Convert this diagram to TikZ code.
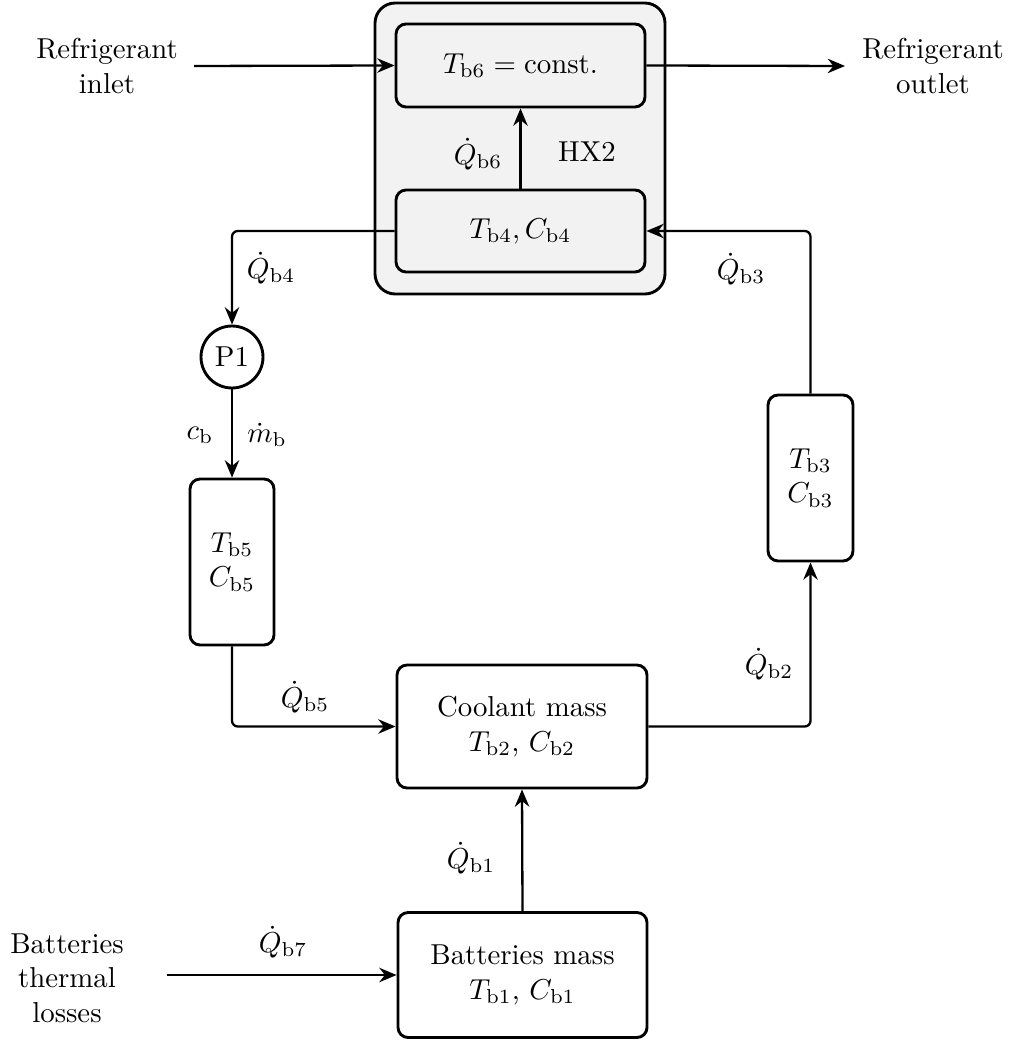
\documentclass[tikz,border=0pt]{standalone}
\usepackage{amsmath}
\usetikzlibrary{arrows.meta}
\newcommand{\pxu}{0.347pt}
\begin{document}
\begin{tikzpicture}[x=\pxu, y=-\pxu,
  box/.style={draw, line width=1pt, rounded corners=3.5pt, fill=gray!10, inner sep=0pt, align=center},
  whitebox/.style={box, fill=white},
  flow/.style={line width=0.8pt, -{Stealth[length=6pt, width=5pt]}, rounded corners=2pt},
  lbl/.style={inner sep=0pt, align=center}]
\useasboundingbox (0,0) rectangle (1013,1042);

% heat exchanger HX2
\node[box, rounded corners=7pt, minimum width={290*\pxu}, minimum height={291*\pxu}] (hx) at (520,148.5) {};
\node[box, minimum width={249*\pxu}, minimum height={83*\pxu}] (t6) at (520.5,65.5) {$T_{\mathrm{b6}} = \text{const.}$};
\node[box, minimum width={249*\pxu}, minimum height={82*\pxu}] (t4) at (520.5,231) {$T_{\mathrm{b4}}, C_{\mathrm{b4}}$};
\node[lbl] (q6) at (478,154) {$\dot{Q}_{\mathrm{b6}}$};
\node[lbl] (hxl) at (587,152) {HX2};

% pump and coolant loop
\node[draw, circle, line width=1pt, minimum size={62*\pxu}, inner sep=0pt] (p1) at (232,357) {P1};
\node[whitebox, minimum width={84*\pxu}, minimum height={166*\pxu}] (t5) at (232,562) {$T_{\mathrm{b5}}$\\$C_{\mathrm{b5}}$};
\node[whitebox, minimum width={250*\pxu}, minimum height={123*\pxu}] (cool) at (522,726.5) {Coolant mass\\$T_{\mathrm{b2}}$, $C_{\mathrm{b2}}$};
\node[whitebox, minimum width={85*\pxu}, minimum height={166*\pxu}] (t3) at (810.5,478) {$T_{\mathrm{b3}}$\\$C_{\mathrm{b3}}$};
\node[whitebox, minimum width={249*\pxu}, minimum height={125*\pxu}] (batt) at (522.5,975) {Batteries mass\\$T_{\mathrm{b1}}$, $C_{\mathrm{b1}}$};

% boundary texts
\node[lbl] (refin) at (107,66) {Refrigerant\\inlet};
\node[lbl] (refout) at (933,66) {Refrigerant\\outlet};
\node[lbl] (loss) at (67,978) {Batteries\\thermal\\losses};
\coordinate (inS) at (194,66);
\coordinate (outE) at (845,66);
\coordinate (lossS) at (167,975);

% flows
\draw[flow] (inS) -- (t6.west);
\draw[flow] (t6.east) -- (outE);
\draw[flow] (t4.north) -- (t6.south);
\draw[flow] (t4.west) -| (p1.north);
\draw[flow] (p1.south) -- (t5.north);
\draw[flow] (t5.south) |- (cool.west);
\draw[flow] (cool.east) -| (t3.south);
\draw[flow] (t3.north) |- (t4.east);
\draw[flow] (batt.north) -- (cool.south);
\draw[flow] (lossS) -- (batt.west);

% flow labels
\node[lbl] (q4) at (271,268) {$\dot{Q}_{\mathrm{b4}}$};
\node[lbl] (cb) at (200,435) {$c_{\mathrm{b}}$};
\node[lbl] (mb) at (267,435) {$\dot{m}_{\mathrm{b}}$};
\node[lbl] (q5) at (305,697) {$\dot{Q}_{\mathrm{b5}}$};
\node[lbl] (q2) at (769,664) {$\dot{Q}_{\mathrm{b2}}$};
\node[lbl] (q3) at (741,269) {$\dot{Q}_{\mathrm{b3}}$};
\node[lbl] (q1) at (471,858) {$\dot{Q}_{\mathrm{b1}}$};
\node[lbl] (q7) at (283,942) {$\dot{Q}_{\mathrm{b7}}$};
\end{tikzpicture}
\end{document}
